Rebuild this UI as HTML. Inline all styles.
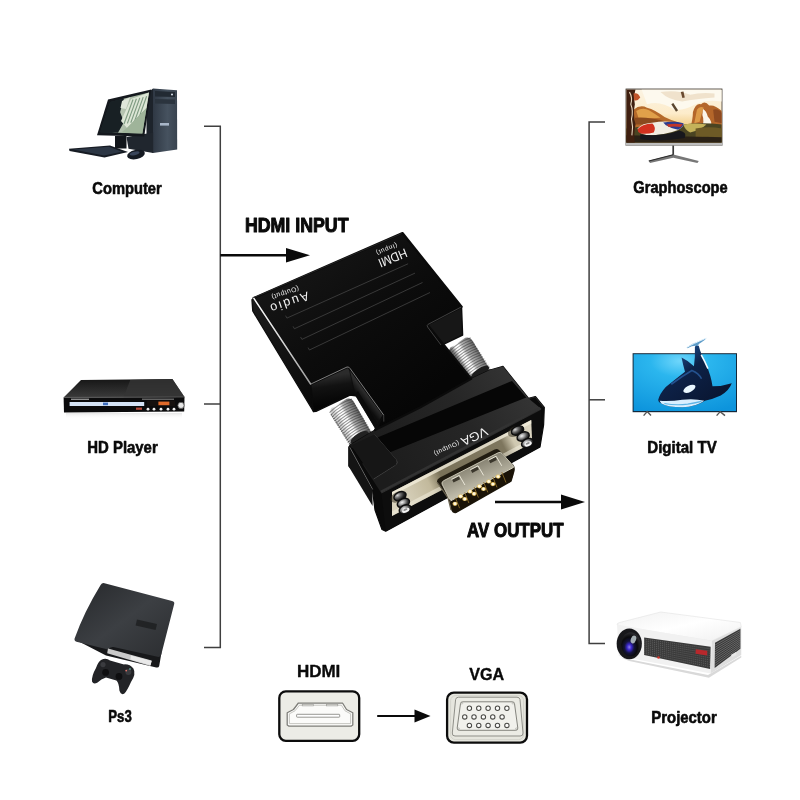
<!DOCTYPE html>
<html><head><meta charset="utf-8"><title>HDMI to VGA adapter</title>
<style>
html,body{margin:0;padding:0;background:#fff;}
body{width:800px;height:800px;overflow:hidden;font-family:"Liberation Sans",sans-serif;}
svg{display:block}
svg text{font-family:"Liberation Sans",sans-serif;}
.lb text{font-weight:700;fill:#0a0a0a}
.wl text{font-weight:400;fill:#f2f2f2}
</style></head><body>
<svg width="800" height="800" viewBox="0 0 800 800">
<defs><filter id="noop" filterUnits="userSpaceOnUse" x="0" y="0" width="800" height="800" color-interpolation-filters="sRGB"><feOffset dx="0" dy="0"/></filter></defs>
<rect width="800" height="800" fill="#ffffff"/>
<g id="lines" class="lb" filter="url(#noop)">
<path d="M204,126.2 H220.3 V647.6 H204" fill="none" stroke="#3f3f3f" stroke-width="1.5"/>
<path d="M204,404 H220.3" fill="none" stroke="#3f3f3f" stroke-width="1.5"/>
<path d="M605,122 H589.1 V643.5 H605" fill="none" stroke="#3f3f3f" stroke-width="1.5"/>
<path d="M589.1,399.8 H605" fill="none" stroke="#3f3f3f" stroke-width="1.5"/>
<path d="M220.3,255.2 H290" stroke="#0a0a0a" stroke-width="2.4" fill="none"/>
<path d="M286,248 L310,255.2 L286,262.6 Z" fill="#0a0a0a"/>
<path d="M495,502 H565" stroke="#0a0a0a" stroke-width="2.4" fill="none"/>
<path d="M561,494.4 L585,502 L561,509.5 Z" fill="#0a0a0a"/>
<path d="M377.2,716 H418" stroke="#0a0a0a" stroke-width="2.2" fill="none"/>
<path d="M414.5,709.6 L430.5,716 L414.5,722.4 Z" fill="#0a0a0a"/>
<text x="92.3" y="194.4" font-size="16.2" textLength="69.4" lengthAdjust="spacingAndGlyphs" stroke="#0a0a0a" stroke-width="0.6" stroke-linejoin="round" >Computer</text>
<text x="87.3" y="453" font-size="16.2" textLength="70.4" lengthAdjust="spacingAndGlyphs" stroke="#0a0a0a" stroke-width="0.6" stroke-linejoin="round" >HD Player</text>
<text x="108.3" y="722.4" font-size="16.2" textLength="23.4" lengthAdjust="spacingAndGlyphs" stroke="#0a0a0a" stroke-width="0.6" stroke-linejoin="round" >Ps3</text>
<text x="633.3" y="193" font-size="16.2" textLength="94.4" lengthAdjust="spacingAndGlyphs" stroke="#0a0a0a" stroke-width="0.6" stroke-linejoin="round" >Graphoscope</text>
<text x="647.3" y="453" font-size="16.2" textLength="69.4" lengthAdjust="spacingAndGlyphs" stroke="#0a0a0a" stroke-width="0.6" stroke-linejoin="round" >Digital TV</text>
<text x="651.3" y="723" font-size="16.2" textLength="65.4" lengthAdjust="spacingAndGlyphs" stroke="#0a0a0a" stroke-width="0.6" stroke-linejoin="round" >Projector</text>
<text x="244.9" y="232" font-size="19.6" textLength="103.6" lengthAdjust="spacingAndGlyphs" stroke="#0a0a0a" stroke-width="1.0" stroke-linejoin="round" >HDMI INPUT</text>
<text x="467.1" y="537.4" font-size="19.6" textLength="96.4" lengthAdjust="spacingAndGlyphs" stroke="#0a0a0a" stroke-width="1.0" stroke-linejoin="round" >AV OUTPUT</text>
<text x="296.875" y="677.3" font-size="16" textLength="43.4" lengthAdjust="spacingAndGlyphs" stroke="#0a0a0a" stroke-width="0.35" stroke-linejoin="round" >HDMI</text>
<text x="469.175" y="679.6" font-size="16" textLength="34.9" lengthAdjust="spacingAndGlyphs" stroke="#0a0a0a" stroke-width="0.35" stroke-linejoin="round" >VGA</text>
</g>
<g id="ports">
<rect x="279.3" y="691.4" width="79.9" height="49.4" rx="6.5" fill="#ecece6" stroke="#0c0c0c" stroke-width="2.3"/>
<path d="M298.4,703 H342.5 L346.5,709.5 L352.8,712.8 V725 L351,726.2 H289 L287.2,725 V712.8 L293.5,709.5 Z" fill="#fbfbf9" stroke="#7c7c77" stroke-width="1.25" stroke-linejoin="round"/>
<path d="M299.5,705.2 H341.4 L345,710.8 L350.6,713.8 V723.6 H289.4 V713.8 L295,710.8 Z" fill="none" stroke="#b9b9b3" stroke-width="0.8"/>
<rect x="296.6" y="714.3" width="43.1" height="2.9" rx="0.6" fill="#ffffff" stroke="#8d8d88" stroke-width="0.9"/>
<rect x="302.2" y="704.3" width="11.2" height="1.6" fill="#eeeeea" stroke="#9a9a95" stroke-width="0.6"/>
<rect x="326.6" y="704.3" width="11.2" height="1.6" fill="#eeeeea" stroke="#9a9a95" stroke-width="0.6"/>
<rect x="447.1" y="692.6" width="79.9" height="50" rx="6.8" fill="#e6e6de" stroke="#0c0c0c" stroke-width="2.3"/>
<rect x="450.6" y="695.6" width="73" height="44" rx="5" fill="none" stroke="#cfcfc6" stroke-width="0.8"/>
<path d="M458.5,697.2 H517 Q519.6,697.2 520,699.6 L523,733 Q523.2,736 520.2,736 H455 Q452,736 452.3,733 L455.6,699.6 Q456,697.2 458.5,697.2 Z" fill="#ebebe4" stroke="#8a8a84" stroke-width="0.95"/>
<path d="M462.6,701.8 H512.4 Q514.2,701.8 514.5,703.6 L517.8,728 Q518,730.3 515.8,730.3 H459.2 Q457,730.3 457.2,728 L460.5,703.6 Q460.8,701.8 462.6,701.8 Z" fill="#f1f1ec" stroke="#7d7d77" stroke-width="0.95"/>
<circle cx="469.4" cy="708.2" r="2.2" fill="#fdfdfb" stroke="#4a4a46" stroke-width="1.05"/>
<circle cx="478.75" cy="708.2" r="2.2" fill="#fdfdfb" stroke="#4a4a46" stroke-width="1.05"/>
<circle cx="488.1" cy="708.2" r="2.2" fill="#fdfdfb" stroke="#4a4a46" stroke-width="1.05"/>
<circle cx="497.5" cy="708.2" r="2.2" fill="#fdfdfb" stroke="#4a4a46" stroke-width="1.05"/>
<circle cx="506.9" cy="708.2" r="2.2" fill="#fdfdfb" stroke="#4a4a46" stroke-width="1.05"/>
<circle cx="464.75" cy="716.9" r="2.2" fill="#fdfdfb" stroke="#4a4a46" stroke-width="1.05"/>
<circle cx="474" cy="716.9" r="2.2" fill="#fdfdfb" stroke="#4a4a46" stroke-width="1.05"/>
<circle cx="483.4" cy="716.9" r="2.2" fill="#fdfdfb" stroke="#4a4a46" stroke-width="1.05"/>
<circle cx="492.75" cy="716.9" r="2.2" fill="#fdfdfb" stroke="#4a4a46" stroke-width="1.05"/>
<circle cx="502.1" cy="716.9" r="2.2" fill="#fdfdfb" stroke="#4a4a46" stroke-width="1.05"/>
<circle cx="469.4" cy="725.4" r="2.2" fill="#fdfdfb" stroke="#4a4a46" stroke-width="1.05"/>
<circle cx="478.75" cy="725.4" r="2.2" fill="#fdfdfb" stroke="#4a4a46" stroke-width="1.05"/>
<circle cx="488.1" cy="725.4" r="2.2" fill="#fdfdfb" stroke="#4a4a46" stroke-width="1.05"/>
<circle cx="497.5" cy="725.4" r="2.2" fill="#fdfdfb" stroke="#4a4a46" stroke-width="1.05"/>
<circle cx="506.9" cy="725.4" r="2.2" fill="#fdfdfb" stroke="#4a4a46" stroke-width="1.05"/>
<circle cx="461.9" cy="703.2" r="0.9" fill="none" stroke="#9b9b94" stroke-width="0.5"/>
<circle cx="513" cy="703.2" r="0.9" fill="none" stroke="#9b9b94" stroke-width="0.5"/>
<circle cx="458.6" cy="728.8" r="0.9" fill="none" stroke="#9b9b94" stroke-width="0.5"/>
<circle cx="516.4" cy="728.8" r="0.9" fill="none" stroke="#9b9b94" stroke-width="0.5"/>
</g>
<g id="left">
<defs>
<linearGradient id="twr" x1="0" x2="1" y1="0" y2="0"><stop offset="0" stop-color="#2f3844"/><stop offset="0.6" stop-color="#46525f"/><stop offset="1" stop-color="#39434f"/></linearGradient>
<linearGradient id="scrn" x1="0" x2="1" y1="0" y2="0.2"><stop offset="0" stop-color="#1d2a2c"/><stop offset="0.42" stop-color="#233236"/><stop offset="0.5" stop-color="#b9c7b4"/><stop offset="1" stop-color="#8fa58d"/></linearGradient>
<linearGradient id="dvdtop" x1="0" x2="0" y1="0" y2="1"><stop offset="0" stop-color="#161616"/><stop offset="1" stop-color="#3a3a3a"/></linearGradient>
<linearGradient id="dvdrefl" x1="0" x2="0" y1="0" y2="1"><stop offset="0" stop-color="#d2d2d2"/><stop offset="1" stop-color="#ffffff" stop-opacity="0"/></linearGradient>
<linearGradient id="ps3top" x1="0" x2="1" y1="0" y2="1"><stop offset="0" stop-color="#26282b"/><stop offset="0.5" stop-color="#3c3f43"/><stop offset="1" stop-color="#2b2d30"/></linearGradient>
</defs>
<polygon points="146.50,94.00 153.00,88.60 153.00,153.00 146.50,148.50" fill="#1d232b"/>
<polygon points="153.00,88.60 177.00,90.20 177.20,149.60 153.00,153.00" fill="url(#twr)"/>
<polygon points="155.00,91.00 175.00,92.00 175.00,97.00 155.00,96.40" fill="#222a33"/>
<polygon points="155.00,99.00 175.00,99.60 175.00,104.00 155.00,103.60" fill="#2b343e"/>
<rect x="160" y="123" width="9" height="2.6" fill="#a8b6c8"/>
<circle cx="172" cy="94.5" r="1" fill="#dfe8f2"/>
<polygon points="115.00,136.00 126.50,136.00 126.50,148.50 115.00,148.50" fill="#12161b"/>
<polygon points="126.50,137.00 153.20,132.60 153.20,153.00 128.50,148.80" fill="#20262e"/>
<polygon points="108.00,99.60 151.20,89.60 144.20,136.40 97.00,135.20" fill="#14181d"/>
<polygon points="110.20,102.00 149.00,92.60 142.40,133.40 100.20,132.20" fill="url(#scrn)"/>
<polygon points="110.20,102.00 124.00,98.60 120.00,112.00 124.00,122.00 118.00,132.70 100.20,132.20" fill="#182024"/>
<polygon points="122.00,101.00 130.00,97.20 126.00,109.00 120.50,108.00" fill="#dfe6da"/>
<polygon points="131.00,99.00 149.00,92.60 146.50,108.00 127.00,128.00 121.00,121.00" fill="#dde6d6"/>
<path d="M133.0,99.5 L124.0,124.0" stroke="#7d9a80" stroke-width="1.1"/>
<path d="M136.4,98.7 L127.4,123.4" stroke="#7d9a80" stroke-width="1.1"/>
<path d="M139.8,97.9 L130.8,122.8" stroke="#7d9a80" stroke-width="1.1"/>
<path d="M143.2,97.1 L134.2,122.2" stroke="#7d9a80" stroke-width="1.1"/>
<path d="M146.6,96.3 L137.6,121.6" stroke="#7d9a80" stroke-width="1.1"/>
<polygon points="127.00,128.00 146.50,108.00 142.40,133.40 121.00,132.80" fill="#9fb49a"/>
<polygon points="69.00,148.80 110.00,145.60 128.00,152.00 104.50,157.40 69.50,151.00" fill="#161b23"/>
<polygon points="73.00,149.40 109.00,146.80 122.00,151.80 104.00,155.40" fill="#2c3644"/>
<ellipse cx="136" cy="154.6" rx="9" ry="4.6" transform="rotate(-12 136 154.6)" fill="#151a22"/>
<ellipse cx="134.6" cy="153.4" rx="5" ry="1.8" transform="rotate(-12 134.6 153.4)" fill="#39455a"/>
<polygon points="81.00,380.00 172.40,379.00 184.50,397.00 63.60,397.40" fill="url(#dvdtop)"/>
<polygon points="130.25,380.00 172.40,379.00 184.50,397.00 123.50,397.20" fill="#343434" opacity="0.8"/>
<polygon points="63.60,397.40 184.50,397.00 184.20,411.60 64.00,412.60" fill="#0b0b0c"/>
<path d="M63.8,397.4 L184.4,397" stroke="#5d5d5d" stroke-width="0.8"/>
<rect x="69.6" y="402" width="74.6" height="4" fill="#d5e3f6"/>
<rect x="103" y="402.6" width="5" height="2.6" fill="#3f6fc0"/>
<rect x="147" y="400.6" width="28" height="5.4" fill="#15100e"/>
<rect x="158.4" y="401.6" width="11" height="3.6" fill="#e06a2a"/>
<rect x="136" y="407.6" width="6" height="2.2" fill="#b74a3a"/>
<circle cx="148" cy="409.2" r="1.4" fill="#f1f1f1"/>
<circle cx="154" cy="409.2" r="1.4" fill="#f1f1f1"/>
<circle cx="161" cy="409.2" r="1.4" fill="#f1f1f1"/>
<circle cx="168" cy="409.2" r="1.4" fill="#f1f1f1"/>
<circle cx="174" cy="409.2" r="1.4" fill="#f1f1f1"/>
<circle cx="181" cy="405.4" r="3.1" fill="#e6e6e6" stroke="#555" stroke-width="0.8"/>
<rect x="66" y="413" width="116" height="6" fill="url(#dvdrefl)" opacity="0.55"/>
<rect x="71" y="398.6" width="18" height="1.4" fill="#8c8c8c"/>
<rect x="142" y="398.6" width="32" height="1.2" fill="#777"/>
<path d="M76,640 L108,647 L113.5,645 L157.6,654.8 L161.6,652 L159.2,666 Q158.6,668 156.2,667.4 L106,655.4 Z" fill="#17181a"/>
<path d="M104.5,583.2 Q102,582.6 100.6,585 Q84,612 74.6,638.6 Q74,641 76.5,641.8 L108,649.6 Q110,646.4 113.5,647 L157.6,656.8 Q160.4,657.4 161.2,654.8 L174.2,604 Q174.8,601.6 172,601 Z" fill="url(#ps3top)"/>
<polygon points="108.00,648.60 151.70,660.60 150.20,666.00 107.20,653.20" fill="#c9c9c9"/>
<polygon points="131.00,655.40 151.60,661.00 150.60,665.20 130.40,659.40" fill="#e9e9e9"/>
<path d="M137,619.5 l20,4.5 l-1.4,6 l-20,-4.6 z" fill="#1b1c1e" opacity="0.75"/>
<path d="M101,660 Q106,657.4 110,660.6 L124,664.4 Q130,664 133.4,668.6 Q136.4,674 131,682 Q127,691 124.4,693.6 Q121,695.6 119.4,690.6 Q119,683 116.4,680.6 L106,677.6 Q101,679 97.6,682.4 Q93.6,685 92,681.6 Q91.4,676 96,668 Q98,662 101,660 Z" fill="#222326"/>
<circle cx="105.6" cy="672.4" r="3.4" fill="#0e0e10"/><circle cx="119" cy="676.4" r="3.4" fill="#0e0e10"/>
<circle cx="103" cy="664.6" r="2.6" fill="#3a3b3f"/><circle cx="128.4" cy="672" r="3" fill="#3a3b3f"/>
<circle cx="126.2" cy="670.6" r="0.9" fill="#e0736b"/><circle cx="130" cy="669" r="0.8" fill="#7bd0c0"/>
</g>
<g id="right">
<defs>
<linearGradient id="sky" x1="0" x2="0" y1="0" y2="1"><stop offset="0" stop-color="#fbf3e2"/><stop offset="0.45" stop-color="#fdeccb"/><stop offset="0.75" stop-color="#f0c777"/><stop offset="1" stop-color="#b98a3c"/></linearGradient>
<radialGradient id="tvbg" cx="0.45" cy="0.12" r="0.95"><stop offset="0" stop-color="#6fd6fb"/><stop offset="0.3" stop-color="#2bb6ee"/><stop offset="1" stop-color="#0d94dc"/></radialGradient>
<linearGradient id="orca" gradientUnits="userSpaceOnUse" x1="670" y1="360" x2="705" y2="405"><stop offset="0" stop-color="#1c4a86"/><stop offset="0.35" stop-color="#0d2147"/><stop offset="1" stop-color="#0a1733"/></linearGradient>
<linearGradient id="pjtop" x1="0" x2="1" y1="0" y2="1"><stop offset="0" stop-color="#f1f1f1"/><stop offset="0.5" stop-color="#ffffff"/><stop offset="1" stop-color="#f0f0f0"/></linearGradient>
<radialGradient id="lens" cx="0.42" cy="0.62" r="0.6"><stop offset="0" stop-color="#8d7df0"/><stop offset="0.2" stop-color="#3a28c8"/><stop offset="0.42" stop-color="#14143a"/><stop offset="0.7" stop-color="#0a0a0c"/><stop offset="1" stop-color="#2a2a2e"/></radialGradient>
<clipPath id="gclip"><rect x="626.4" y="89.4" width="95.2" height="53"/></clipPath>
</defs>
<rect x="625.6" y="88.6" width="96.8" height="57" fill="#3a332b"/>
<rect x="625.6" y="142.4" width="96.8" height="3.2" fill="#bdbdbd"/>
<g clip-path="url(#gclip)">
<rect x="626" y="89" width="96" height="54" fill="url(#sky)"/>
<path d="M 641.60,89.40 L 721.93,89.40 L 721.93,101.55 Q 706.40,98.85 695.60,104.25 Q 683.45,111.00 674.00,109.65 Q 660.50,100.20 647.00,104.25 Z" fill="#fdf9ee"/>
<path d="M 660.50,92.10 Q 676.70,89.40 690.20,94.80 Q 701.00,92.10 714.51,93.45 L 714.51,97.50 Q 695.60,98.85 682.10,101.55 Q 668.60,100.20 660.50,92.10 Z" fill="#e9d9bd" opacity="0.7"/>
<path d="M 633.50,109.65 Q 640.25,104.25 647.00,107.63 Q 655.10,109.65 664.55,117.08 Q 671.30,120.45 676.70,121.80 L 676.70,128.55 L 633.50,128.55 Z" fill="#b66a2a"/>
<path d="M 636.20,111.00 Q 642.95,106.95 649.03,110.33 Q 653.75,113.03 660.50,117.75 L 638.90,119.10 Z" fill="#e0a04a"/>
<path d="M 634.85,117.75 Q 647.00,116.40 664.55,121.13 L 664.55,124.50 L 634.85,124.50 Z" fill="#8a4a1e"/>
<path d="M 692.90,112.35 Q 695.60,102.90 701.00,104.25 Q 705.05,100.20 709.10,105.60 Q 714.51,104.25 721.93,111.00 L 721.93,128.55 L 690.20,128.55 Q 692.90,119.10 692.90,112.35 Z" fill="#b4662a"/>
<path d="M 696.95,109.65 Q 699.65,105.60 703.70,107.63 Q 701.00,115.05 699.65,121.80 L 694.25,123.15 Z" fill="#dc9a48"/>
<path d="M 713.16,109.65 Q 718.56,108.30 721.93,113.03 L 721.93,123.15 L 714.51,121.80 Z" fill="#8e4a20"/>
<path d="M 703.03,108.98 Q 706.40,111.00 707.75,116.40 Q 713.16,121.80 710.45,127.20 L 701.00,128.55 Q 705.05,121.80 702.35,115.05 Z" fill="#fbf6ea"/>
<path d="M 626.08,128.55 Q 653.75,124.50 683.45,124.50 Q 701.00,121.80 721.93,124.50 L 721.93,143.40 L 626.08,143.40 Z" fill="#4a4422"/>
<path d="M 683.45,124.50 Q 695.60,122.48 706.40,124.50 Q 701.00,129.90 690.20,132.60 Q 684.80,129.90 683.45,124.50 Z" fill="#c4b25a"/>
<path d="M 695.60,128.55 Q 709.10,125.85 721.93,128.55 L 721.93,138.00 Q 707.75,135.30 695.60,138.00 Z" fill="#6d5a26"/>
<path d="M 626.08,135.30 L 721.93,137.33 L 721.93,143.40 L 626.08,143.40 Z" fill="#2a2116"/>
<path d="M 637.55,128.55 Q 641.60,123.15 653.75,122.48 Q 664.55,120.45 683.45,123.15 Q 684.80,125.85 678.05,129.90 Q 664.55,135.30 647.00,135.30 Q 638.90,133.95 637.55,128.55 Z" fill="#f1ece2"/>
<path d="M 637.55,129.23 Q 641.60,123.83 652.40,123.42 Q 656.45,127.20 653.75,132.60 Q 645.65,134.63 640.25,133.28 Q 637.55,131.93 637.55,129.23 Z" fill="#d2311f"/>
<path d="M 663.20,122.48 Q 674.00,120.72 683.45,123.15 Q 684.53,126.12 678.05,129.63 Q 671.30,128.55 665.90,125.18 Z" fill="#2c3a8e"/>
<path d="M 666.58,124.50 Q 674.00,123.15 682.78,124.23 L 680.75,126.93 Q 674.00,126.12 668.60,126.93 Z" fill="#c23428"/>
<path d="M 640.25,134.22 Q 660.50,137.33 679.40,130.58 Q 687.50,132.60 684.80,138.00 Q 660.50,142.05 640.25,139.35 Z" fill="#17171c"/>
<path d="M 626.08,89.13 L 635.53,89.13 Q 633.50,96.15 634.85,104.25 Q 632.83,115.05 635.53,124.50 Q 633.50,133.95 634.85,143.40 L 626.08,143.40 Z" fill="#3f1f10"/>
<path d="M 629.45,92.10 Q 632.83,97.50 630.80,104.25 Q 633.50,111.00 631.48,119.10 Q 633.50,127.20 631.88,135.30" stroke="#e8d8c0" stroke-width="1.1" fill="none"/>
<path d="M 633.50,93.45 Q 638.23,92.10 640.25,97.50 Q 637.55,101.55 634.18,100.20 Z" fill="#c0542a"/>
<path d="M 671.30,104.25 L 673.33,102.90 L 678.05,110.33 L 676.03,111.68 Z" fill="#5a4630"/>
<path d="M 680.75,92.10 L 683.45,91.43 L 684.80,97.50 L 682.37,98.04 Z" fill="#6a4a30"/>
</g>
<path d="M673.2,145.6 V155.4" stroke="#3a3a3a" stroke-width="1.7"/>
<path d="M673.2,154.4 L648.6,160.8 L650,163 L673.2,157.8 L697.4,163 L698.8,161 Z" fill="#777"/>
<path d="M648.8,161 L673.2,154.8" stroke="#2a2a2a" stroke-width="1.1"/>
<rect x="632.6" y="353.2" width="104.4" height="59" fill="#14283a"/>
<rect x="633.6" y="354.2" width="102.4" height="56.8" fill="url(#tvbg)"/>
<path d="M 696.00,345.06 Q 697.65,345.47 698.75,345.75 Q 700.81,354.00 706.31,365.00 Q 711.12,376.00 712.50,386.31 Q 722.12,386.31 731.75,383.15 Q 729.68,389.75 720.75,395.52 Q 712.50,399.37 704.93,400.75 Q 696.00,406.93 682.25,407.35 Q 668.50,407.35 661.35,403.50 Q 658.19,402.12 658.19,400.06 Q 659.56,393.87 665.75,387.00 Q 675.37,379.44 685.00,371.87 Q 682.94,364.31 681.56,357.44 Q 687.75,360.19 693.94,366.37 Q 695.31,356.75 694.90,347.12 Z" fill="url(#orca)"/>
<path d="M 686.65,347.40 Q 691.87,343.69 698.75,341.35 Q 702.87,339.56 706.45,338.05 Q 704.93,340.52 701.50,342.31 Q 698.75,343.69 697.65,345.75 L 695.72,345.75 Q 691.87,345.75 687.47,348.22 Z" fill="#5e9cc8"/>
<path d="M 686.92,347.40 Q 692.56,343.82 706.45,338.05" stroke="#e8f6ff" stroke-width="0.9" fill="none"/>
<path d="M 701.50,355.37 Q 704.93,361.56 707.68,368.02" stroke="#f2faff" stroke-width="1.6" fill="none" stroke-linecap="round"/>
<path d="M 659.56,400.75 Q 671.25,401.43 682.25,399.65 Q 694.62,398.27 704.25,400.75 Q 696.00,406.93 682.25,407.35 Q 668.50,407.35 661.35,403.50 Z" fill="#d9efff"/>
<path d="M 664.37,403.50 Q 675.37,405.56 687.75,404.18 Q 696.00,402.81 701.50,401.43" stroke="#5fb4e6" stroke-width="1.2" fill="none"/>
<ellipse cx="689.40" cy="388.79" rx="6.6" ry="3.2" transform="rotate(-27 689.40 388.79)" fill="#eaf7ff"/>
<path d="M 671.25,384.25 Q 682.25,376.00 691.87,370.50 Q 698.75,373.25 701.50,378.75" stroke="#2f66ae" stroke-width="1.6" fill="none" opacity="0.7"/>
<path d="M643.6,415.6 L647.2,411.6 L651,415.6" stroke="#555" stroke-width="1.4" fill="none"/>
<path d="M716.6,415.6 L720.2,411.6 L725,415.6" stroke="#555" stroke-width="1.4" fill="none"/>
<path d="M 620.50,657.50 L 708.00,675.00 L 741.26,655.75 L 741.26,657.50 L 708.88,677.63 L 629.25,661.00 Z" fill="#d9d9d9"/>
<path d="M 617.00,624.60 Q 617.00,623.20 619.63,622.50 L 660.75,612.00 L 740.38,622.50 L 741.26,626.88 L 711.86,641.05 L 620.50,626.35 Z" fill="url(#pjtop)" stroke="#e3e3e3" stroke-width="0.6"/>
<path d="M 617.00,624.60 L 711.86,641.05 L 710.63,673.60 L 618.75,656.10 Z" fill="#f1f1f1"/>
<path d="M 711.86,641.05 L 741.26,626.88 L 741.26,654.88 L 710.63,673.60 Z" fill="#dedede"/>
<path d="M 644.13,637.38 L 710.63,646.65 L 710.11,669.05 L 644.13,655.05 Z" fill="#3a3a3a"/>
<path d="M 644.13,639.14 L 710.46,648.89" stroke="#737373" stroke-width="0.55" stroke-dasharray="1.1 0.9"/>
<path d="M 644.13,640.91 L 710.46,651.13" stroke="#737373" stroke-width="0.55" stroke-dasharray="1.1 0.9"/>
<path d="M 644.13,642.68 L 710.46,653.37" stroke="#737373" stroke-width="0.55" stroke-dasharray="1.1 0.9"/>
<path d="M 644.13,644.45 L 710.46,655.61" stroke="#737373" stroke-width="0.55" stroke-dasharray="1.1 0.9"/>
<path d="M 644.13,646.21 L 710.46,657.85" stroke="#737373" stroke-width="0.55" stroke-dasharray="1.1 0.9"/>
<path d="M 644.13,647.98 L 710.46,660.09" stroke="#737373" stroke-width="0.55" stroke-dasharray="1.1 0.9"/>
<path d="M 644.13,649.75 L 710.46,662.33" stroke="#737373" stroke-width="0.55" stroke-dasharray="1.1 0.9"/>
<path d="M 644.13,651.52 L 710.46,664.57" stroke="#737373" stroke-width="0.55" stroke-dasharray="1.1 0.9"/>
<path d="M 644.13,653.28 L 710.46,666.81" stroke="#737373" stroke-width="0.55" stroke-dasharray="1.1 0.9"/>
<path d="M 715.01,642.80 L 740.38,628.80 L 740.38,648.75 L 714.66,668.00 Z" fill="#383838"/>
<path d="M 715.01,645.08 L 740.38,630.62" stroke="#8d8d8d" stroke-width="0.55"/>
<path d="M 715.01,647.35 L 740.38,632.44" stroke="#8d8d8d" stroke-width="0.55"/>
<path d="M 715.01,649.63 L 740.38,634.26" stroke="#8d8d8d" stroke-width="0.55"/>
<path d="M 715.01,651.90 L 740.38,636.08" stroke="#8d8d8d" stroke-width="0.55"/>
<path d="M 715.01,654.18 L 740.38,637.90" stroke="#8d8d8d" stroke-width="0.55"/>
<path d="M 715.01,656.45 L 740.38,639.72" stroke="#8d8d8d" stroke-width="0.55"/>
<path d="M 715.01,658.73 L 740.38,641.54" stroke="#8d8d8d" stroke-width="0.55"/>
<path d="M 715.01,661.00 L 740.38,643.36" stroke="#8d8d8d" stroke-width="0.55"/>
<path d="M 715.01,663.28 L 740.38,645.18" stroke="#8d8d8d" stroke-width="0.55"/>
<path d="M 715.01,665.55 L 740.38,647.00" stroke="#8d8d8d" stroke-width="0.55"/>
<ellipse cx="629.25" cy="643.85" rx="12.6" ry="15.4" fill="#17171a"/>
<ellipse cx="630.85" cy="644.25" rx="9.6" ry="12" fill="url(#lens)"/>
<ellipse cx="633.45" cy="639.45" rx="2.6" ry="4.0" fill="#c9d6da" opacity="0.8" transform="rotate(20 633.45 639.45)"/>
<path d="M 695.75,649.28 L 707.30,650.85 L 707.13,655.40 L 695.58,653.65 Z" fill="#b8282c"/>
<circle cx="658.48" cy="657.50" r="1.3" fill="#d2352b"/>
<path d="M 730.76,654.88 L 736.01,651.90 L 736.36,654.88 L 732.51,656.98 Z" fill="#e9e9e9"/>
</g>
<g id="adapter">
<defs>
<linearGradient id="scrL" x1="0" x2="1" y1="0" y2="0">
 <stop offset="0" stop-color="#e4e4e4"/><stop offset="0.14" stop-color="#cfcfcf"/><stop offset="0.3" stop-color="#ffffff"/><stop offset="0.46" stop-color="#fbfbfb"/><stop offset="0.6" stop-color="#b0b0b0"/><stop offset="0.82" stop-color="#7e7e7e"/><stop offset="1" stop-color="#565656"/>
</linearGradient>
<linearGradient id="scrR" x1="0" x2="1" y1="0" y2="0">
 <stop offset="0" stop-color="#3a3a3a"/><stop offset="0.18" stop-color="#868686"/><stop offset="0.32" stop-color="#fafafa"/><stop offset="0.46" stop-color="#ffffff"/><stop offset="0.6" stop-color="#b4b4b4"/><stop offset="0.84" stop-color="#858585"/><stop offset="1" stop-color="#5c5c5c"/>
</linearGradient>
<linearGradient id="plate" gradientUnits="userSpaceOnUse" x1="392" y1="504" x2="532" y2="433">
 <stop offset="0" stop-color="#d9d2bc"/><stop offset="0.12" stop-color="#d3ccb5"/><stop offset="0.27" stop-color="#c2b99c"/><stop offset="0.36" stop-color="#7a7259"/><stop offset="0.8" stop-color="#7e765e"/><stop offset="0.87" stop-color="#cfc8b0"/><stop offset="1" stop-color="#ddd7c3"/>
</linearGradient>
<linearGradient id="shell" gradientUnits="userSpaceOnUse" x1="470" y1="460" x2="482" y2="490">
 <stop offset="0" stop-color="#7c7868"/><stop offset="0.5" stop-color="#a29e8d"/><stop offset="1" stop-color="#c9c5b3"/>
</linearGradient>
<linearGradient id="topface" gradientUnits="userSpaceOnUse" x1="300" y1="250" x2="420" y2="400">
 <stop offset="0" stop-color="#161616"/><stop offset="0.5" stop-color="#0c0c0c"/><stop offset="1" stop-color="#060606"/>
</linearGradient>
<linearGradient id="sideL" gradientUnits="userSpaceOnUse" x1="255" y1="300" x2="313" y2="400">
 <stop offset="0" stop-color="#1c1c1c"/><stop offset="1" stop-color="#0a0a0a"/>
</linearGradient>
<linearGradient id="frontN" gradientUnits="userSpaceOnUse" x1="330" y1="376" x2="334" y2="404">
 <stop offset="0" stop-color="#2b2b2b"/><stop offset="0.35" stop-color="#121212"/><stop offset="1" stop-color="#050505"/>
</linearGradient>
<linearGradient id="hl" gradientUnits="userSpaceOnUse" x1="254" y1="298" x2="311" y2="384"><stop offset="0" stop-color="#ffffff"/><stop offset="0.5" stop-color="#d8d8d8"/><stop offset="1" stop-color="#9c9c9c"/></linearGradient>
<linearGradient id="htop" gradientUnits="userSpaceOnUse" x1="380" y1="470" x2="520" y2="380"><stop offset="0" stop-color="#1c1c1c"/><stop offset="0.6" stop-color="#262626"/><stop offset="1" stop-color="#343434"/></linearGradient>
<linearGradient id="nwall" gradientUnits="userSpaceOnUse" x1="372" y1="392" x2="362" y2="400"><stop offset="0" stop-color="#444"/><stop offset="0.5" stop-color="#2a2a2a"/><stop offset="1" stop-color="#0e0e0e"/></linearGradient>
<radialGradient id="nutD" cx="0.35" cy="0.3" r="0.75"><stop offset="0" stop-color="#d8d8d8"/><stop offset="0.35" stop-color="#6c6c6c"/><stop offset="0.7" stop-color="#222"/><stop offset="1" stop-color="#0a0a0a"/></radialGradient>
<radialGradient id="nut" cx="0.42" cy="0.38" r="0.7">
 <stop offset="0" stop-color="#f4f4f4"/><stop offset="0.3" stop-color="#a8a8a8"/><stop offset="0.65" stop-color="#3e3e3e"/><stop offset="1" stop-color="#141414"/>
</radialGradient>
</defs>
<g transform="translate(342.6,408.8) rotate(-31.2)">
<path d="M-13.2,0 Q-13.2,-5 -8.7,-6.4 H8.7 Q13.2,-5 13.2,0 L12.2,42 H-12.2 Z" fill="url(#scrL)"/>
<path d="M-13.2,-3.5 Q0,-6.8 13.2,-3.5" stroke="#2a2a2a" stroke-opacity="0.5" stroke-width="1.0" fill="none"/>
<path d="M-13.2,-1.0 Q0,-4.3 13.2,-1.0" stroke="#2a2a2a" stroke-opacity="0.5" stroke-width="1.0" fill="none"/>
<path d="M-13.2,1.5 Q0,-1.8 13.2,1.5" stroke="#2a2a2a" stroke-opacity="0.5" stroke-width="1.0" fill="none"/>
<path d="M-13.2,4.0 Q0,0.7 13.2,4.0" stroke="#2a2a2a" stroke-opacity="0.5" stroke-width="1.0" fill="none"/>
<path d="M-13.2,6.5 Q0,3.2 13.2,6.5" stroke="#2a2a2a" stroke-opacity="0.5" stroke-width="1.0" fill="none"/>
<path d="M-13.2,9.0 Q0,5.7 13.2,9.0" stroke="#2a2a2a" stroke-opacity="0.5" stroke-width="1.0" fill="none"/>
<path d="M-13.2,11.5 Q0,8.2 13.2,11.5" stroke="#2a2a2a" stroke-opacity="0.5" stroke-width="1.0" fill="none"/>
<path d="M-13.2,14.0 Q0,10.7 13.2,14.0" stroke="#2a2a2a" stroke-opacity="0.5" stroke-width="1.0" fill="none"/>
<path d="M-13.2,16.5 Q0,13.2 13.2,16.5" stroke="#2a2a2a" stroke-opacity="0.5" stroke-width="1.0" fill="none"/>
<path d="M-13.2,19.0 Q0,15.7 13.2,19.0" stroke="#2a2a2a" stroke-opacity="0.5" stroke-width="1.0" fill="none"/>
<path d="M-13.2,21.5 Q0,18.2 13.2,21.5" stroke="#2a2a2a" stroke-opacity="0.5" stroke-width="1.0" fill="none"/>
<path d="M-13.2,24.0 Q0,20.7 13.2,24.0" stroke="#2a2a2a" stroke-opacity="0.5" stroke-width="1.0" fill="none"/>
<path d="M-13.2,26.5 Q0,23.2 13.2,26.5" stroke="#2a2a2a" stroke-opacity="0.5" stroke-width="1.0" fill="none"/>
<path d="M-13.2,29.0 Q0,25.7 13.2,29.0" stroke="#2a2a2a" stroke-opacity="0.5" stroke-width="1.0" fill="none"/>
<path d="M-13.2,31.5 Q0,28.2 13.2,31.5" stroke="#2a2a2a" stroke-opacity="0.5" stroke-width="1.0" fill="none"/>
<path d="M-13.2,34.0 Q0,30.7 13.2,34.0" stroke="#2a2a2a" stroke-opacity="0.5" stroke-width="1.0" fill="none"/>
<path d="M-13.2,36.5 Q0,33.2 13.2,36.5" stroke="#2a2a2a" stroke-opacity="0.5" stroke-width="1.0" fill="none"/>
<path d="M-13.2,39.0 Q0,35.7 13.2,39.0" stroke="#2a2a2a" stroke-opacity="0.5" stroke-width="1.0" fill="none"/>
<path d="M-13.2,41.5 Q0,38.2 13.2,41.5" stroke="#2a2a2a" stroke-opacity="0.5" stroke-width="1.0" fill="none"/>
<path d="M-12.6,-1 L-11.6,42" stroke="#2a2a2a" stroke-opacity="0.55" stroke-width="1.6" stroke-dasharray="1.2 0.9" fill="none"/>
</g>
<g transform="translate(461.4,348.0) rotate(-33.2)">
<path d="M-13.3,0 Q-13.3,-5 -8.8,-6.4 H8.8 Q13.3,-5 13.3,0 L11.700000000000001,40 H-11.700000000000001 Z" fill="url(#scrR)"/>
<path d="M-13.3,-3.5 Q0,-6.8 13.3,-3.5" stroke="#2a2a2a" stroke-opacity="0.5" stroke-width="1.0" fill="none"/>
<path d="M-13.3,-1.0 Q0,-4.3 13.3,-1.0" stroke="#2a2a2a" stroke-opacity="0.5" stroke-width="1.0" fill="none"/>
<path d="M-13.3,1.5 Q0,-1.8 13.3,1.5" stroke="#2a2a2a" stroke-opacity="0.5" stroke-width="1.0" fill="none"/>
<path d="M-13.3,4.0 Q0,0.7 13.3,4.0" stroke="#2a2a2a" stroke-opacity="0.5" stroke-width="1.0" fill="none"/>
<path d="M-13.3,6.5 Q0,3.2 13.3,6.5" stroke="#2a2a2a" stroke-opacity="0.5" stroke-width="1.0" fill="none"/>
<path d="M-13.3,9.0 Q0,5.7 13.3,9.0" stroke="#2a2a2a" stroke-opacity="0.5" stroke-width="1.0" fill="none"/>
<path d="M-13.3,11.5 Q0,8.2 13.3,11.5" stroke="#2a2a2a" stroke-opacity="0.5" stroke-width="1.0" fill="none"/>
<path d="M-13.3,14.0 Q0,10.7 13.3,14.0" stroke="#2a2a2a" stroke-opacity="0.5" stroke-width="1.0" fill="none"/>
<path d="M-13.3,16.5 Q0,13.2 13.3,16.5" stroke="#2a2a2a" stroke-opacity="0.5" stroke-width="1.0" fill="none"/>
<path d="M-13.3,19.0 Q0,15.7 13.3,19.0" stroke="#2a2a2a" stroke-opacity="0.5" stroke-width="1.0" fill="none"/>
<path d="M-13.3,21.5 Q0,18.2 13.3,21.5" stroke="#2a2a2a" stroke-opacity="0.5" stroke-width="1.0" fill="none"/>
<path d="M-13.3,24.0 Q0,20.7 13.3,24.0" stroke="#2a2a2a" stroke-opacity="0.5" stroke-width="1.0" fill="none"/>
<path d="M-13.3,26.5 Q0,23.2 13.3,26.5" stroke="#2a2a2a" stroke-opacity="0.5" stroke-width="1.0" fill="none"/>
<path d="M-13.3,29.0 Q0,25.7 13.3,29.0" stroke="#2a2a2a" stroke-opacity="0.5" stroke-width="1.0" fill="none"/>
<path d="M-13.3,31.5 Q0,28.2 13.3,31.5" stroke="#2a2a2a" stroke-opacity="0.5" stroke-width="1.0" fill="none"/>
<path d="M-13.3,34.0 Q0,30.7 13.3,34.0" stroke="#2a2a2a" stroke-opacity="0.5" stroke-width="1.0" fill="none"/>
<path d="M-13.3,36.5 Q0,33.2 13.3,36.5" stroke="#2a2a2a" stroke-opacity="0.5" stroke-width="1.0" fill="none"/>
<path d="M-13.3,39.0 Q0,35.7 13.3,39.0" stroke="#2a2a2a" stroke-opacity="0.5" stroke-width="1.0" fill="none"/>
<path d="M-12.700000000000001,-1 L-11.100000000000001,40" stroke="#2a2a2a" stroke-opacity="0.55" stroke-width="1.6" stroke-dasharray="1.2 0.9" fill="none"/>
</g>
<ellipse cx="359.5" cy="437.5" rx="10.5" ry="4.2" transform="rotate(-32 359.5 437.5)" fill="#222"/>
<ellipse cx="480" cy="372.5" rx="10.5" ry="4" transform="rotate(-33 480 372.5)" fill="#1e1e1e"/>
<polygon points="350.10,445.00 375.00,430.00 420.00,407.50 471.20,378.80 490.00,370.00 503.00,366.40 528.60,398.40 535.50,396.60 544.30,407.30 543.60,425.00 540.00,447.00 385.75,531.25 382.00,529.50 375.00,510.00 372.50,490.00 348.80,466.00 348.80,447.00" fill="#0a0a0a" stroke="#0a0a0a" stroke-width="1.2" stroke-linejoin="round"/>
<polygon points="350.10,445.00 375.00,430.00 420.00,407.50 471.20,378.80 490.00,370.00 503.00,366.40 528.60,398.40 541.30,409.00 381.30,493.00" fill="url(#htop)"/>
<polygon points="352.00,448.30 512.00,380.90 526.30,397.50 362.00,463.40" fill="#060606"/>
<polygon points="252.00,299.80 254.00,298.00 310.70,384.20 313.50,411.50 252.80,311.00" fill="url(#sideL)" stroke="#0e0e0e" stroke-width="1.4" stroke-linejoin="round"/>
<polygon points="310.70,384.20 347.50,366.90 350.50,369.20 357.50,396.00 350.00,395.00 316.00,411.30 313.50,411.50" fill="url(#frontN)" stroke="#0a0a0a" stroke-width="1.4" stroke-linejoin="round"/>
<polygon points="349.00,368.00 383.80,415.00 383.80,421.50 376.00,429.50 355.00,394.50" fill="url(#nwall)" stroke="#0d0d0d" stroke-width="0.8" stroke-linejoin="round"/>
<polygon points="355.00,394.50 376.00,429.50 379.00,426.50 358.00,391.00" fill="#0b0b0b"/>
<polygon points="461.50,306.50 462.60,335.00 441.30,345.30 427.00,325.00" fill="#171717" stroke="#0c0c0c" stroke-width="1.4" stroke-linejoin="round"/>
<polygon points="402.50,233.00 461.60,306.80 427.40,324.60 471.20,378.80 420.00,407.50 375.00,430.00 383.75,415.00 350.00,368.75 347.50,366.90 310.70,384.20 253.60,298.00" fill="url(#topface)" stroke="#0b0b0b" stroke-width="2.2" stroke-linejoin="round"/>
<path d="M253.9,298.4 L310.6,384" stroke="url(#hl)" stroke-width="1.5" fill="none" stroke-linecap="round"/>
<path d="M310.9,384 L347,367 Q349,366.6 350.2,368.6 L383.6,415" stroke="#8a8a8a" stroke-width="0.9" fill="none"/>
<path d="M383.7,415 L383.8,421.6" stroke="#4a4a4a" stroke-width="0.8" fill="none"/>
<path d="M461.2,307 L428,324.4 Q426.6,325.4 427.6,327 L441,345" stroke="#4c4c4c" stroke-width="0.8" fill="none"/>
<path d="M254,297.6 L401.6,233.6" stroke="#2c2c2c" stroke-width="0.8" fill="none"/>
<path d="M285.6,315.7 L286.9,318.1 L408.1,263.75" stroke="#474747" stroke-width="0.75" fill="none"/>
<path d="M293.1,326.4 L294.4,328.75 L415,273.1" stroke="#474747" stroke-width="0.75" fill="none"/>
<path d="M300.6,337.0 L301.9,339.4 L422.5,282.5" stroke="#474747" stroke-width="0.75" fill="none"/>
<path d="M308.1,347.6 L309.4,350 L430,292.5" stroke="#474747" stroke-width="0.75" fill="none"/>
<g class="wl" filter="url(#noop)">
<g transform="translate(289.5,301.6) rotate(160.8)"><text x="0" y="3.6" text-anchor="middle" font-size="12.6" textLength="40" lengthAdjust="spacing">Audio</text><text x="1" y="12" text-anchor="middle" font-size="6.8" textLength="28.5" lengthAdjust="spacing">(Output)</text></g>
<g transform="translate(392.6,257.8) rotate(157.5)"><text x="0" y="4" text-anchor="middle" font-size="12.6" textLength="30" lengthAdjust="spacingAndGlyphs">HDMI</text><text x="2" y="12.4" text-anchor="middle" font-size="6.4" textLength="22" lengthAdjust="spacing">(Input)</text></g>
</g>
<polygon points="381.30,493.00 541.30,409.00 539.60,407.00 380.40,490.80" fill="#323232"/>
<path d="M528.6,398.6 L535.2,397 L543.6,407.4" stroke="#2f2f2f" stroke-width="0.8" fill="none"/>
<path d="M374.5,434.5 L396.4,460 Q398.6,463 395.6,465 L373.6,479" stroke="#444" stroke-width="0.9" fill="none"/><polygon points="351,445.6 374.5,434.5 396.4,460 396,464.6 373.4,478.6" fill="#161616"/>
<path d="M349.8,447.4 L372.6,489.4" stroke="#9a9a9a" stroke-width="0.9" fill="none" stroke-opacity="0.7"/>
<polygon points="349.00,448.00 372.40,490.00 372.60,506.00 349.00,467.00" fill="#141414"/>
<polygon points="381.30,493.00 541.30,409.00 540.00,447.00 385.75,531.25" fill="#0d0d0d"/>
<path d="M381.6,493 L541.2,409.2" stroke="#3a3a3a" stroke-width="0.7"/>
<polygon points="392.00,492.00 531.20,420.00 532.20,443.00 392.00,516.00" fill="url(#plate)"/>
<polygon points="392.00,511.40 532.10,438.60 532.20,443.00 392.00,516.00" fill="#f6f2e2" opacity="0.5"/>
<polygon points="392.00,492.00 531.20,420.00 531.40,423.60 392.00,495.40" fill="#f2eddc" opacity="0.8"/>
<path d="M440,477.6 L494.6,449.4 Q497.2,448.2 499,450 L513.6,465 Q515.4,467.6 514.6,471 L511.6,481.6 L456.4,513 Q452.8,514 451.4,510.6 L448.4,498.4 L437.2,482.6 Q436.2,479.4 440,477.6 Z" fill="#211c11"/>
<path d="M437,482 L448,497.8 L451,510" stroke="#6a6350" stroke-width="1.2" fill="none"/>
<path d="M444,480.5 L498.5,452.6 Q500.6,451.8 502,453.4 L513,465.6 Q514.3,467.4 512.4,468.5 L452.4,500 Q450.4,500.8 449.4,499 L442,484 Q441.3,481.8 444,480.5 Z" fill="url(#shell)" stroke="#dedac8" stroke-width="0.8"/>
<polygon points="452.1,479.7 458.7,476.3 460.1,479.2 453.5,482.5" fill="#3b372c"/>
<path d="M451.5,479.4 l7.8,-4 l5.6,9.6" stroke="#f0eddf" stroke-width="0.9" fill="none"/>
<polygon points="470.8,470.1 477.4,466.7 478.8,469.6 472.2,472.9" fill="#3b372c"/>
<path d="M470.2,469.8 l7.8,-4 l5.6,9.6" stroke="#f0eddf" stroke-width="0.9" fill="none"/>
<polygon points="488.9,460.5 495.5,457.1 496.9,460.0 490.3,463.3" fill="#3b372c"/>
<path d="M488.3,460.2 l7.8,-4 l5.6,9.6" stroke="#f0eddf" stroke-width="0.9" fill="none"/>
<path d="M450.4,500.8 L513.6,467.2 Q514.6,474 510.8,481.4 L456.2,512.4 Q452.6,513.4 451.8,509.6 Z" fill="#1a1307"/>
<path d="M450.6,500.9 L513.5,467.4" stroke="#e9e5d2" stroke-width="0.9"/>
<path d="M459.6,508.2 l-4.2,-10.4" stroke="#8a6c28" stroke-width="0.9" />
<path d="M468.9,503 l-4.2,-10.4" stroke="#8a6c28" stroke-width="0.9" />
<path d="M478.4,497.6 l-4.2,-10.4" stroke="#8a6c28" stroke-width="0.9" />
<path d="M487.8,492.4 l-4.2,-10.4" stroke="#8a6c28" stroke-width="0.9" />
<path d="M497,487.4 l-4.2,-10.4" stroke="#8a6c28" stroke-width="0.9" />
<path d="M506,482.6 l-4.2,-10.4" stroke="#8a6c28" stroke-width="0.9" />
<ellipse cx="460.6" cy="496.3" rx="2.5" ry="2.1" fill="#e9c668"/><circle cx="460.6" cy="496.3" r="1.45" fill="#fff9e2"/>
<ellipse cx="470" cy="491.5" rx="2.5" ry="2.1" fill="#e9c668"/><circle cx="470" cy="491.5" r="1.45" fill="#fff9e2"/>
<ellipse cx="479.4" cy="486.3" rx="2.5" ry="2.1" fill="#e9c668"/><circle cx="479.4" cy="486.3" r="1.45" fill="#fff9e2"/>
<ellipse cx="488.75" cy="481.5" rx="2.5" ry="2.1" fill="#e9c668"/><circle cx="488.75" cy="481.5" r="1.45" fill="#fff9e2"/>
<ellipse cx="498.1" cy="476.6" rx="2.5" ry="2.1" fill="#e9c668"/><circle cx="498.1" cy="476.6" r="1.45" fill="#fff9e2"/>
<ellipse cx="455" cy="503.8" rx="2.5" ry="2.1" fill="#dfb95a"/><circle cx="455" cy="503.8" r="1.45" fill="#fff9e2"/>
<ellipse cx="464.75" cy="499" rx="2.5" ry="2.1" fill="#dfb95a"/><circle cx="464.75" cy="499" r="1.45" fill="#fff9e2"/>
<ellipse cx="474.1" cy="493.8" rx="2.5" ry="2.1" fill="#dfb95a"/><circle cx="474.1" cy="493.8" r="1.45" fill="#fff9e2"/>
<ellipse cx="483.5" cy="489" rx="2.5" ry="2.1" fill="#dfb95a"/><circle cx="483.5" cy="489" r="1.45" fill="#fff9e2"/>
<ellipse cx="492.9" cy="484.1" rx="2.5" ry="2.1" fill="#dfb95a"/><circle cx="492.9" cy="484.1" r="1.45" fill="#fff9e2"/>
<ellipse cx="397.5" cy="497.2" rx="7.5" ry="5" fill="#3a3526" opacity="0.55" transform="rotate(-27 397.5 497.2)"/>
<ellipse cx="400" cy="496.2" rx="6.4" ry="4.3" fill="url(#nutD)" stroke="#0e0e0e" stroke-width="1.4" transform="rotate(-24 400 496.2)"/>
<ellipse cx="403.4" cy="503.0" rx="6.4" ry="4.3" fill="url(#nut)" stroke="#0e0e0e" stroke-width="1.4" transform="rotate(-24 403.4 503.0)"/>
<ellipse cx="405.2" cy="509.4" rx="6.2" ry="4.3" fill="url(#nut)" stroke="#0e0e0e" stroke-width="1.4" transform="rotate(-24 405.2 509.4)"/>
<ellipse cx="405.8" cy="510.29999999999995" rx="3.9" ry="2.1" fill="#f6f6f6" transform="rotate(-24 405.8 510.29999999999995)"/>
<ellipse cx="405.4" cy="509.59999999999997" rx="2.2" ry="1.0" fill="#8a8a8a" transform="rotate(-24 405.4 509.59999999999997)"/>
<ellipse cx="515.0" cy="431.5" rx="7.5" ry="5" fill="#3a3526" opacity="0.55" transform="rotate(-27 515.0 431.5)"/>
<ellipse cx="517.5" cy="430.5" rx="6.4" ry="4.3" fill="url(#nutD)" stroke="#0e0e0e" stroke-width="1.4" transform="rotate(-24 517.5 430.5)"/>
<ellipse cx="523.1" cy="436.5" rx="6.4" ry="4.3" fill="url(#nut)" stroke="#0e0e0e" stroke-width="1.4" transform="rotate(-24 523.1 436.5)"/>
<ellipse cx="527.5" cy="443.1" rx="6.2" ry="4.3" fill="url(#nut)" stroke="#0e0e0e" stroke-width="1.4" transform="rotate(-24 527.5 443.1)"/>
<ellipse cx="528.1" cy="444.0" rx="3.9" ry="2.1" fill="#f6f6f6" transform="rotate(-24 528.1 444.0)"/>
<ellipse cx="527.7" cy="443.3" rx="2.2" ry="1.0" fill="#8a8a8a" transform="rotate(-24 527.7 443.3)"/>
<g filter="url(#noop)"><g class="wl" transform="translate(460.4,443.2) rotate(154.8)"><text x="-29.5" y="4.4" font-size="12.4" textLength="28" lengthAdjust="spacingAndGlyphs">VGA</text><text x="1" y="3.4" font-size="6.4" textLength="27" lengthAdjust="spacing">(Output)</text></g></g>
</g>
</svg>
</body></html>
